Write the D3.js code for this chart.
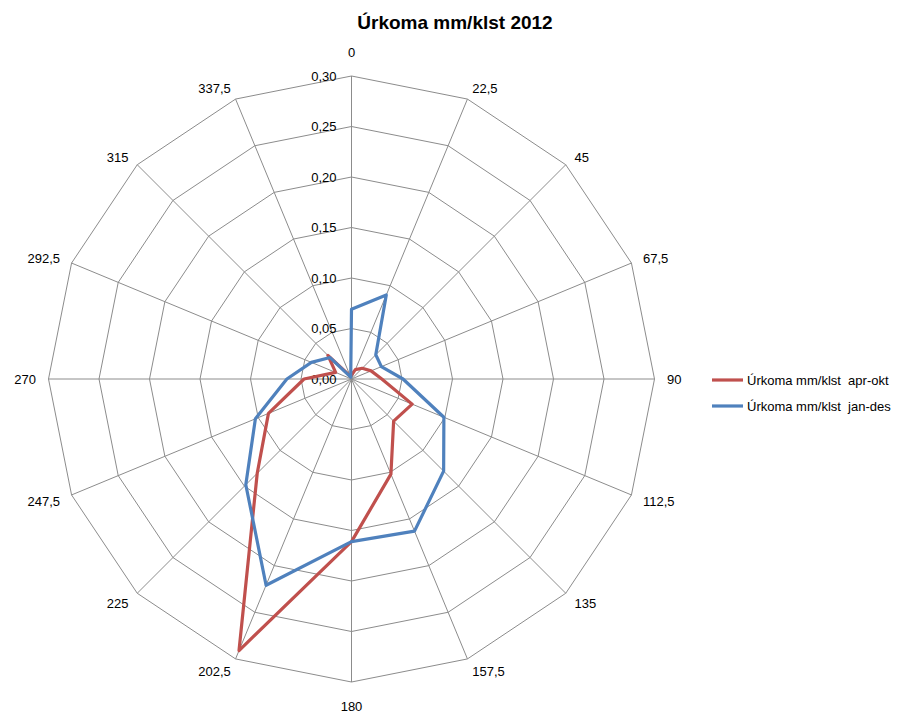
<!DOCTYPE html>
<html>
<head>
<meta charset="utf-8">
<script src="https://cdn.jsdelivr.net/npm/d3@7"></script>
<style>
  html, body { margin: 0; padding: 0; background: #fff; }
  svg { display: block; }
  text { font-family: "Liberation Sans", Arial, sans-serif; fill: #000; white-space: pre; }
</style>
</head>
<body>
<svg id="chart" width="900" height="713"></svg>
<script>
const title = "Úrkoma mm/klst 2012";
const categories = ["0","22,5","45","67,5","90","112,5","135","157,5","180","202,5","225","247,5","270","292,5","315","337,5"];
const seriesNames = ["Úrkoma mm/klst  apr-okt", "Úrkoma mm/klst  jan-des"];
const aprOkt = [0.004, 0.010, 0.015, 0.021, 0.030, 0.065, 0.059, 0.102, 0.161, 0.291, 0.132, 0.089, 0.047, 0.017, 0.033, 0.003];
const janDes = [0.069, 0.090, 0.034, 0.032, 0.051, 0.099, 0.129, 0.163, 0.161, 0.221, 0.148, 0.103, 0.064, 0.043, 0.030, 0.002];
const tickValues = [0, 0.05, 0.10, 0.15, 0.20, 0.25, 0.30];
const tickLabels = ["0,00","0,05","0,10","0,15","0,20","0,25","0,30"];
const colors = ["#C0504D", "#4F81BD"];

const svg = d3.select("#chart");
const cx = 351.5, cy = 379, R = 303;
const r = d3.scaleLinear().domain([0, 0.30]).range([0, R]);
const n = categories.length;
const angle = d3.scaleLinear().domain([0, n]).range([0, 2 * Math.PI]);

const g = svg.append("g").attr("transform", `translate(${cx},${cy})`);

// title
svg.append("text")
  .attr("x", 455).attr("y", 29)
  .attr("text-anchor", "middle")
  .style("font-size", "19px").style("font-weight", "bold")
  .text(title);

// grid rings (polygons)
const ringLine = d3.lineRadial()
  .angle((d, i) => angle(i))
  .radius(d => r(d))
  .curve(d3.curveLinearClosed);

tickValues.slice(1).forEach(t => {
  g.append("path")
    .attr("d", ringLine(d3.range(n).map(() => t)))
    .attr("fill", "none")
    .attr("stroke", "#8c8c8c")
    .attr("stroke-width", 1);
});

// spokes
d3.range(n).forEach(i => {
  const a = angle(i);
  g.append("line")
    .attr("x1", 0).attr("y1", 0)
    .attr("x2", r(0.30) * Math.sin(a))
    .attr("y2", -r(0.30) * Math.cos(a))
    .attr("stroke", "#8c8c8c")
    .attr("stroke-width", 1);
});

// tick labels along the 0 spoke
tickValues.forEach((t, i) => {
  g.append("text")
    .attr("x", -15)
    .attr("y", -r(t))
    .attr("dy", "0.35em")
    .attr("text-anchor", "end")
    .style("font-size", "13px")
    .text(tickLabels[i]);
});

// category labels
categories.forEach((c, i) => {
  const a = angle(i);
  const s = Math.sin(a), co = Math.cos(a);
  const vx = R * s, vy = -R * co;
  let x, y, anchor;
  if (Math.abs(s) < 0.01) {
    x = vx; y = vy - co * 24; anchor = "middle";
  } else {
    x = vx + 12.5 * s;
    y = vy - co * 11 + (co < -0.01 ? 2.5 : 0);
    anchor = s > 0 ? "start" : "end";
  }
  g.append("text")
    .attr("x", x)
    .attr("y", y)
    .attr("dy", "0.35em")
    .attr("text-anchor", anchor)
    .style("font-size", "13px")
    .text(c);
});

// series
const seriesLine = d3.lineRadial()
  .angle((d, i) => angle(i))
  .radius(d => r(d))
  .curve(d3.curveLinearClosed);

[aprOkt, janDes].forEach((vals, k) => {
  g.append("path")
    .attr("d", seriesLine(vals))
    .attr("fill", "none")
    .attr("stroke", colors[k])
    .attr("stroke-width", 3.2)
    .attr("stroke-linejoin", "round");
});

// legend
const legend = svg.append("g").attr("transform", "translate(712,380)");
seriesNames.forEach((name, k) => {
  const y = k * 26;
  legend.append("line")
    .attr("x1", 0).attr("x2", 31).attr("y1", y).attr("y2", y)
    .attr("stroke", colors[k]).attr("stroke-width", 3.2);
  legend.append("text")
    .attr("x", 35).attr("y", y).attr("dy", "0.35em")
    .style("font-size", "13px")
    .text(name);
});
</script>
</body>
</html>
